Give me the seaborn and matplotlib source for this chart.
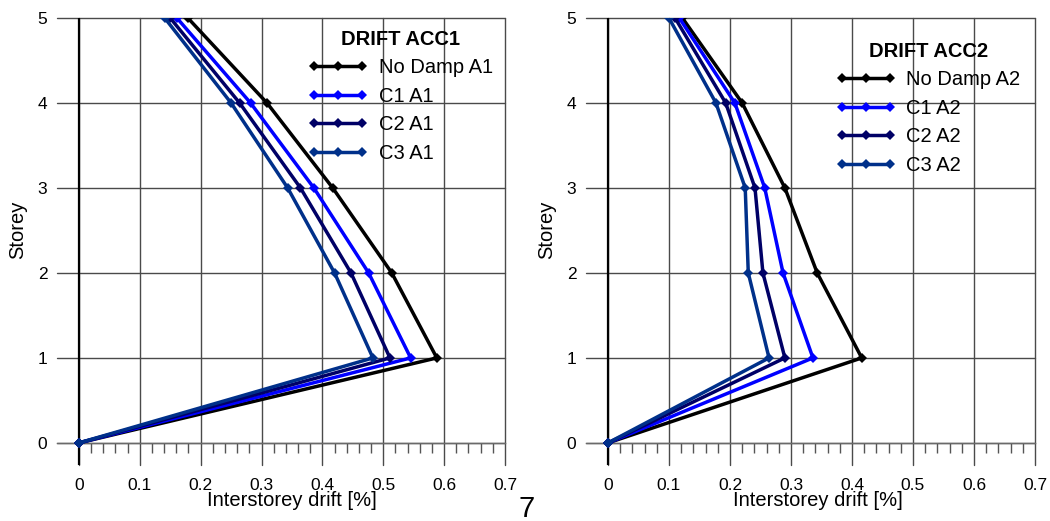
import matplotlib
matplotlib.use("Agg")
import matplotlib.pyplot as plt
import pandas as pd
import seaborn as sns

# Storey levels (ground = 0)
storeys = [0, 1, 2, 3, 4, 5]

# Interstorey drift [%] for accelerogram 1
acc1_names = ["No Damp A1", "C1 A1", "C2 A1", "C3 A1"]
acc1_nodamp = [0.0, 0.588, 0.514, 0.417, 0.309, 0.179]
acc1_c1 = [0.0, 0.545, 0.476, 0.386, 0.282, 0.161]
acc1_c2 = [0.0, 0.511, 0.447, 0.364, 0.264, 0.150]
acc1_c3 = [0.0, 0.483, 0.420, 0.343, 0.250, 0.141]

# Interstorey drift [%] for accelerogram 2
acc2_names = ["No Damp A2", "C1 A2", "C2 A2", "C3 A2"]
acc2_nodamp = [0.0, 0.416, 0.343, 0.290, 0.220, 0.122]
acc2_c1 = [0.0, 0.336, 0.287, 0.257, 0.208, 0.117]
acc2_c2 = [0.0, 0.290, 0.254, 0.241, 0.193, 0.110]
acc2_c3 = [0.0, 0.264, 0.230, 0.225, 0.177, 0.100]

x_ticks = [0.0, 0.1, 0.2, 0.3, 0.4, 0.5, 0.6, 0.7]
x_tick_labels = ["0", "0.1", "0.2", "0.3", "0.4", "0.5", "0.6", "0.7"]
y_ticks = [0, 1, 2, 3, 4, 5]
y_tick_labels = ["0", "1", "2", "3", "4", "5"]

series_colors = ["#000000", "#0000ff", "#000066", "#00308a"]

sns.set_style("white")
plt.rcParams["font.family"] = ["Liberation Sans", "DejaVu Sans"]
plt.rcParams.update({
    "text.color": "black",
    "axes.labelcolor": "black",
    "xtick.color": "black",
    "ytick.color": "black",
})

FS_TICK = 12.5
FS_TEXT = 14.5


def long_table(names, series):
    rows = []
    for name, vals in zip(names, series):
        for s, d in zip(storeys, vals):
            rows.append({"series": name, "drift": d, "storey": s})
    return pd.DataFrame(rows)


def draw_panel(ax, names, series, title, legend_anchor, xlabel_x):
    df = long_table(names, series)
    sns.lineplot(data=df, x="drift", y="storey", hue="series",
                 hue_order=names, palette=dict(zip(names, series_colors)),
                 sort=False, estimator=None, marker="D", markersize=5,
                 markeredgewidth=0, linewidth=2.5, legend=False, ax=ax,
                 zorder=3)
    handles = list(ax.lines)

    ax.set_xlim(-0.036, 0.7)
    ax.set_ylim(-0.26, 5)

    # x axis runs along storey 0, with minor ticks hanging below it
    for side in ("top", "right", "left"):
        ax.spines[side].set_visible(False)
    ax.spines["bottom"].set_position(("data", 0))
    ax.spines["bottom"].set_color("#6a6a6a")
    ax.spines["bottom"].set_linewidth(1.0)

    ax.set_xticks(x_ticks)
    ax.set_xticklabels(x_tick_labels)
    ax.set_xticks([t / 50 for t in range(1, 35) if t % 5], minor=True)
    ax.set_yticks(y_ticks)
    ax.set_yticklabels(y_tick_labels)

    ax.tick_params(axis="x", which="major", bottom=True, length=0, pad=25,
                   labelsize=FS_TICK, labelcolor="black")
    ax.tick_params(axis="x", which="minor", bottom=True, direction="out",
                   length=7.5, width=1.0, color="#555555")
    ax.tick_params(axis="y", which="major", left=True, length=0, pad=7,
                   labelsize=FS_TICK, labelcolor="black")

    ax.grid(True, which="major", color="#4a4a4a", linewidth=1.0)
    for gl in ax.get_xgridlines() + ax.get_ygridlines():
        gl.set_clip_on(False)
    ax.set_axisbelow(True)
    ax.axvline(0, color="black", linewidth=1.6, zorder=2)

    ax.set_xlabel("Interstorey drift [%]", fontsize=FS_TEXT, color="black")
    ax.xaxis.set_label_coords(xlabel_x, -0.058)
    ax.set_ylabel("Storey", fontsize=FS_TEXT, color="black")
    ax.yaxis.set_label_coords(-0.067, 0.526)

    leg = ax.legend(handles, names, title=title, loc="upper left",
                    bbox_to_anchor=legend_anchor, frameon=False,
                    fontsize=FS_TEXT,
                    title_fontproperties={"weight": "bold", "size": FS_TEXT},
                    numpoints=3, handlelength=3.0, handletextpad=0.5,
                    labelspacing=0.47, borderpad=0)
    leg.get_title().set_color("black")
    for t in leg.get_texts():
        t.set_color("black")


fig = plt.figure(figsize=(10.5, 5.21), dpi=100)
ax1 = fig.add_axes([57 / 1050, 56 / 521, 448 / 1050, 447 / 521])
ax2 = fig.add_axes([586 / 1050, 56 / 521, 449 / 1050, 447 / 521])

draw_panel(ax1, acc1_names, [acc1_nodamp, acc1_c1, acc1_c2, acc1_c3],
           "DRIFT ACC1", (0.538, 0.996), 0.525)
draw_panel(ax2, acc2_names, [acc2_nodamp, acc2_c1, acc2_c2, acc2_c3],
           "DRIFT ACC2", (0.534, 0.969), 0.517)

fig.text(527 / 1050, 1 - 509 / 521, "7", fontsize=21, ha="center", va="center",
         color="black")

fig.savefig("out.png", dpi=100)
